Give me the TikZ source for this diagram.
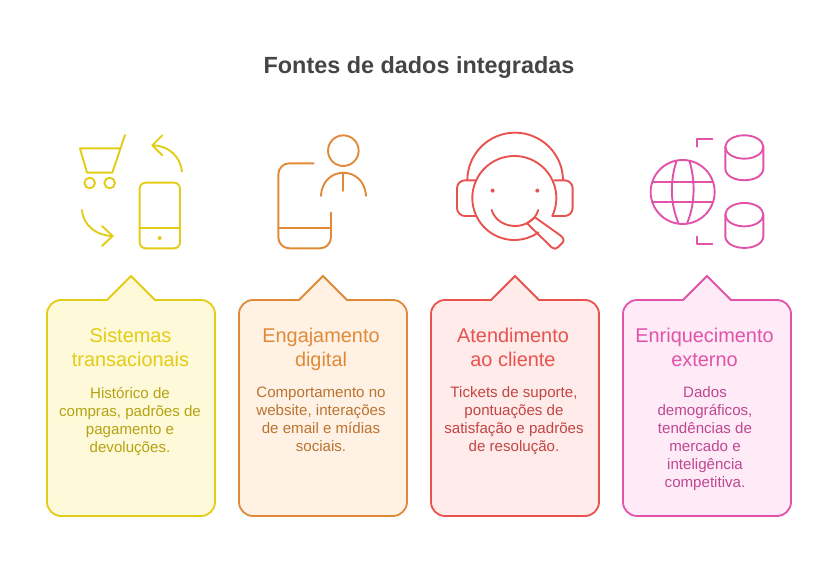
\documentclass[tikz,border=0pt]{standalone}
\usepackage{fontspec}
\setmainfont{Liberation Sans}
\definecolor{cy}{HTML}{E3CC17}\definecolor{cyf}{HTML}{FEF9D9}\definecolor{cyt}{HTML}{B5A313}
\definecolor{co}{HTML}{E08A38}\definecolor{cof}{HTML}{FFF1E4}\definecolor{cot}{HTML}{BA7430}
\definecolor{cr}{HTML}{E8524F}\definecolor{crf}{HTML}{FFEBE9}\definecolor{crt}{HTML}{C24644}
\definecolor{cp}{HTML}{E053A9}\definecolor{cpf}{HTML}{FFEAF7}\definecolor{cpt}{HTML}{BE4892}
\tikzset{
 card/.style={line width=1.8pt,line join=miter},
 ttl/.style={align=center,font=\fontsize{19.9}{24}\selectfont,anchor=north},
 bdy/.style={align=center,font=\fontsize{15.1}{18}\selectfont,anchor=north},
 ico/.style={line width=1.9pt,line cap=round,line join=round},
 zoomed/.style={x=0.3333pt,y=-0.3333pt}
}
\newcommand{\cardshape}[3]{%
 \draw[card,draw=#2,fill=#3,shift={(#1,0)}] (14,300) -- (60,300) -- (84,276) -- (108,300) -- (154,300)
 .. controls (161.7,300) and (168,306.3) .. (168,314) -- (168,502)
 .. controls (168,509.7) and (161.7,516) .. (154,516) -- (14,516)
 .. controls (6.3,516) and (0,509.7) .. (0,502) -- (0,314)
 .. controls (0,306.3) and (6.3,300) .. (14,300) -- cycle;}
\begin{document}
\begin{tikzpicture}[x=1pt,y=-1pt]
\useasboundingbox (0,0) rectangle (839,588);
\node[font=\bfseries\fontsize{23.4}{28}\selectfont,text=black!73] (title) at (419,68) {Fontes de dados integradas};
% cards
\cardshape{47}{cy}{cyf}
\cardshape{239}{co}{cof}
\cardshape{431}{cr}{crf}
\cardshape{623}{cp}{cpf}
\node[ttl,text=cy] (t1) at (130.5,325) {Sistemas\\transacionais};
\node[ttl,text=co] (t2) at (321,325) {Engajamento\\digital};
\node[ttl,text=cr] (t3) at (513,325) {Atendimento\\ao cliente};
\node[ttl,text=cp] (t4) at (704.5,325) {Enriquecimento\\externo};
\node[bdy,text=cyt] (b1) at (130,383.5) {Histórico de\\compras, padrões de\\pagamento e\\devoluções.};
\node[bdy,text=cot] (b2) at (321,383.5) {Comportamento no\\website, interações\\de email e mídias\\sociais.};
\node[bdy,text=crt] (b3) at (514,383.5) {Tickets de suporte,\\pontuações de\\satisfação e padrões\\de resolução.};
\node[bdy,text=cpt] (b4) at (705,383.5) {Dados\\demográficos,\\tendências de\\mercado e\\inteligência\\competitiva.};
% icon 1
\begin{scope}[shift={(60,120)},zoomed,ico,draw=cy]
\draw (195,45) -- (157,158) -- (81,158) -- (60,85) -- (181,85);
\draw (89,189) circle[radius=5.3pt] (149,189) circle[radius=5.3pt];
\draw[rounded corners=6pt] (239,188) rectangle (360,385);
\draw (239,324) -- (360,324);
\fill[cy] (299,354) circle[radius=2pt];
\draw (366,155) .. controls (362,110) and (325,76) .. (277,76);
\draw (307,46) -- (277,76) -- (307,106);
\draw (66,270) .. controls (68,315) and (110,348) .. (158,348);
\draw (126,318) -- (158,348) -- (126,378);
\end{scope}
% icon 2
\begin{scope}[shift={(260,120)},zoomed,ico,draw=co]
\draw (250,92) circle[radius=15.3pt];
\draw (183,228) .. controls (187,135) and (313,135) .. (318,228);
\draw (250,158) -- (250,213);
\draw[rounded corners=11pt] (161,130) -- (55,130) -- (55,385) -- (213,385) -- (213,278);
\draw (55,324) -- (213,324);
\end{scope}
% icon 3
\begin{scope}[shift={(445,120)},zoomed,ico,draw=cr]
\draw plot[domain=55:385,samples=120,smooth] ({208+126*cos(\x)},{234+126*sin(\x)});
\draw (67,181) .. controls (67,102) and (131,38) .. (210,38) .. controls (289,38) and (354,102) .. (354,181);
\draw[rounded corners=8pt] (92,181) -- (36,181) -- (36,288) -- (92,288);
\draw[rounded corners=8pt] (328,181) -- (383,181) -- (383,288) -- (322,288);
\fill[cr] (143,212) circle[radius=2pt] (277,212) circle[radius=2pt];
\draw (140,270) .. controls (160,334) and (260,334) .. (280,270);
\draw (246,310) -- (270,292) -- (343,344) .. controls (358,354) and (358,362) .. (352,369) -- (340,381) .. controls (334,388) and (326,388) .. (320,382) -- cycle;
\end{scope}
% icon 4
\begin{scope}[shift={(640,120)},zoomed,ico,draw=cp]
\draw (128,216) circle[radius=32pt];
\draw (110,122) .. controls (90,180) and (90,250) .. (115,308);
\draw (148,122) .. controls (166,180) and (166,250) .. (142,308);
\draw (38,186) -- (218,186) (38,246) -- (218,246);
\draw (170,80) -- (170,58) -- (217,58);
\draw (170,350) -- (170,373) -- (217,373);
\foreach \yy in {0,203}{
 \draw (313,\yy+81) ellipse[x radius=19pt,y radius=11.7pt];
 \draw (256,\yy+81) -- (256,\yy+147) .. controls (260,\yy+192) and (366,\yy+192) .. (370,\yy+147) -- (370,\yy+81);
}
\end{scope}
\end{tikzpicture}
\end{document}
